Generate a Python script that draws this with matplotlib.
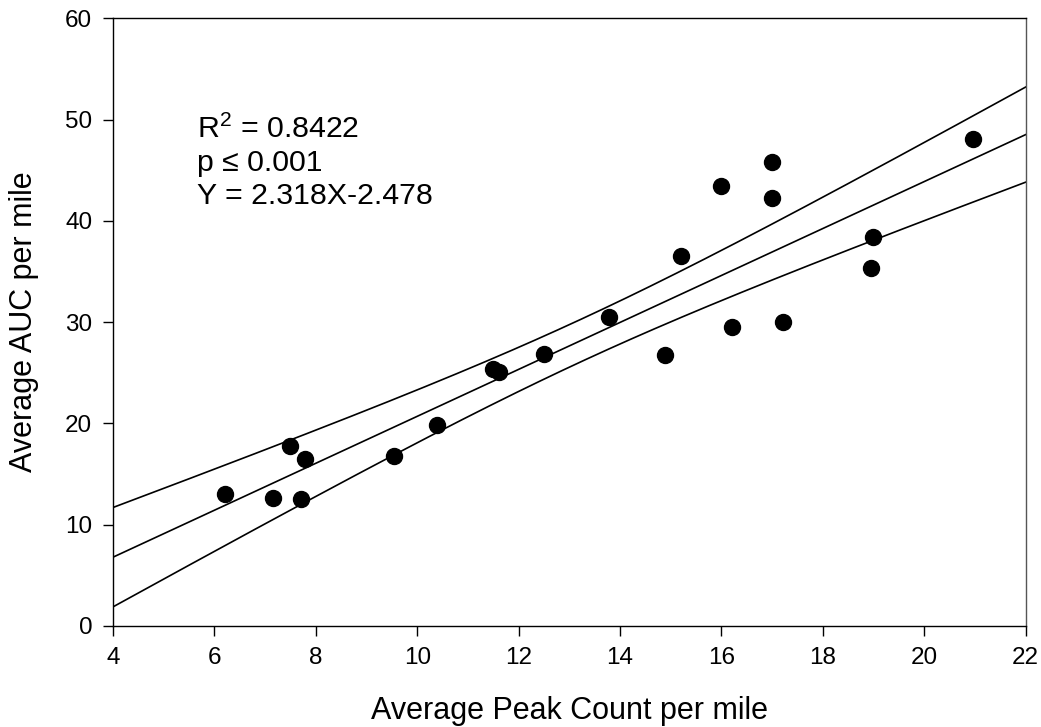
import numpy as np
import matplotlib
matplotlib.use("Agg")
import matplotlib.pyplot as plt

plt.rcParams['font.family'] = ['Liberation Sans', 'DejaVu Sans']
plt.rcParams['mathtext.fontset'] = 'custom'
plt.rcParams['mathtext.rm'] = 'Liberation Sans'
plt.rcParams['mathtext.it'] = 'Liberation Sans'

# Data
peak_count = [6.20, 7.16, 7.49, 7.79, 7.71, 9.54, 10.39, 11.50, 11.61, 12.50,
              13.79, 14.89, 15.20, 16.00, 17.00, 17.00, 16.20, 17.22, 18.99,
              18.94, 20.97]
auc = [13.0, 12.6, 17.8, 16.5, 12.5, 16.8, 19.8, 25.4, 25.1, 26.9,
       30.5, 26.75, 36.5, 43.4, 45.8, 42.3, 29.5, 30.0, 38.4,
       35.3, 48.1]
slope = 2.318
intercept = -2.478
t_crit = 2.093  # t(0.975, df=19)

x = np.array(peak_count)
y = np.array(auc)
n = len(x)

fig = plt.figure(figsize=(10.41, 7.27), dpi=100)
ax = fig.add_axes([113/1041, 1 - 626/727, (1025.7 - 113)/1041, (626 - 18.3)/727])

xx = np.linspace(4, 22, 200)
yfit = slope * xx + intercept
resid = y - (slope * x + intercept)
s = np.sqrt(np.sum(resid**2) / (n - 2))
sxx = np.sum((x - x.mean())**2)
half = t_crit * s * np.sqrt(1.0 / n + (xx - x.mean())**2 / sxx)

ax.plot(xx, yfit, color='black', lw=1.2)
ax.plot(xx, yfit + half, color='black', lw=1.2)
ax.plot(xx, yfit - half, color='black', lw=1.2)
ax.plot(x, y, 'o', color='black', markersize=11.5, zorder=3)

ax.set_xlim(4, 22)
ax.set_ylim(0, 60)
ax.set_xticks(np.arange(4, 23, 2))
ax.set_yticks(np.arange(0, 61, 10))
ax.tick_params(direction='out', length=7, width=1, labelsize=17.5, pad=8,
               top=False, right=False)
for side in ['left', 'bottom', 'top', 'right']:
    ax.spines[side].set_linewidth(1.0)
    ax.spines[side].set_color('black')
ax.spines['right'].set_color('#555555')

ax.set_xlabel('Average Peak Count per mile', fontsize=22)
ax.set_ylabel('Average AUC per mile', fontsize=22)
ax.xaxis.set_label_coords(0.5, -0.115)
ax.yaxis.set_label_coords(-0.081, 0.5)

tx = 4 + (196.7 - 113) / 50.7
ax.text(tx, (626 - 137.7) / 10.13, r'R$^{2}$ = 0.8422', fontsize=21.8, va='baseline', ha='left')
ax.text(tx, (626 - 170.5) / 10.13, 'p ≤ 0.001', fontsize=21.8, va='baseline', ha='left')
ax.text(tx, (626 - 204) / 10.13, 'Y = 2.318X-2.478', fontsize=21.8, va='baseline', ha='left')

fig.savefig('out.png', dpi=100)
